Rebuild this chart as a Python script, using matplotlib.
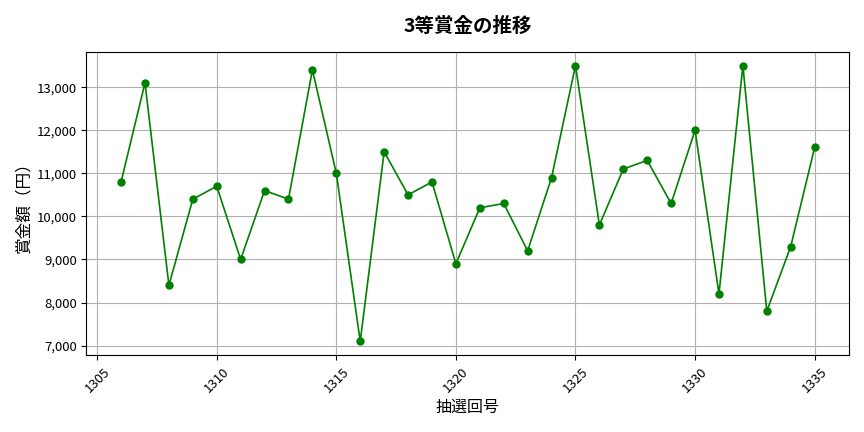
import matplotlib
matplotlib.use('Agg')
import matplotlib.pyplot as plt
from matplotlib.ticker import FuncFormatter

plt.rcParams['font.family'] = ['Noto Sans CJK JP', 'DejaVu Sans']

# data
draws = list(range(1306, 1336))
prizes = [10800, 13100, 8400, 10400, 10700, 9000, 10600, 10400, 13400, 11000,
          7100, 11500, 10500, 10800, 8900, 10200, 10300, 9200, 10900, 13500,
          9800, 11100, 11300, 10300, 12000, 8200, 13500, 7800, 9300, 11600]

fig, ax = plt.subplots(figsize=(8.64, 4.32), dpi=100)
ax.plot(draws, prizes, marker='o', color='green', markersize=5, linewidth=1.2)
ax.set_title('3等賞金の推移', fontsize=14, fontweight='bold', pad=14)
ax.set_xlabel('抽選回号', fontsize=11.5, labelpad=3)
ax.set_ylabel('賞金額（円）', fontsize=12, labelpad=3)
ax.yaxis.set_major_formatter(FuncFormatter(lambda v, p: f'{int(v):,}'))
ax.tick_params(axis='both', labelsize=9.5)
plt.setp(ax.get_xticklabels(), rotation=45)
ax.grid(True, color='#b0b0b0', linewidth=0.8)

fig.subplots_adjust(left=0.1, right=0.983, top=0.88, bottom=0.178)
fig.savefig('out.png', dpi=100)
